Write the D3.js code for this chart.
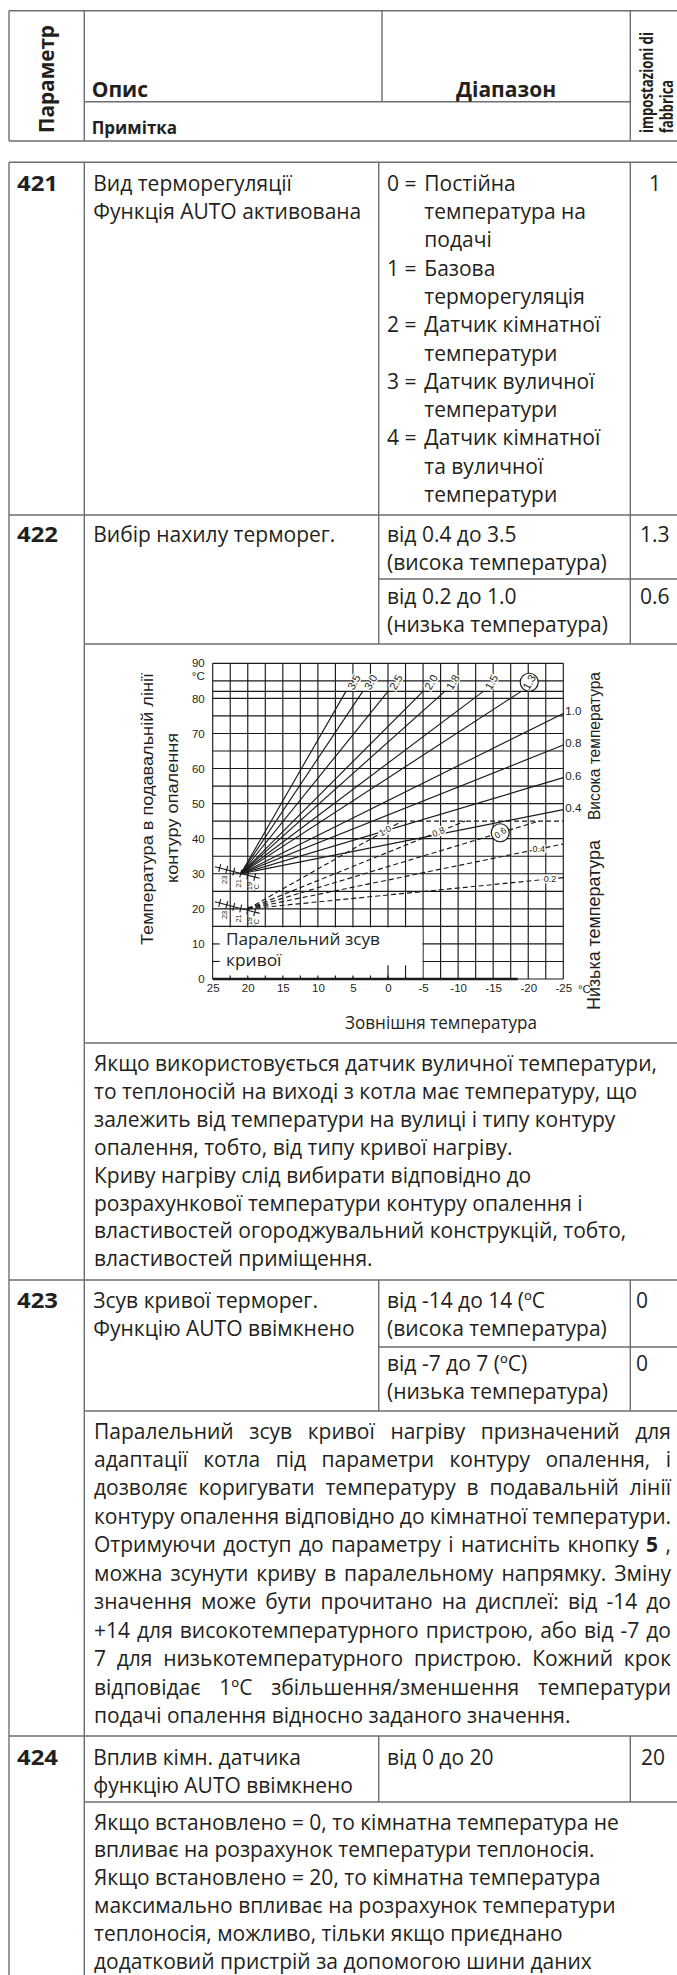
<!DOCTYPE html>
<html><head><meta charset="utf-8">
<script src="https://cdn.jsdelivr.net/npm/d3@7"></script>
<style>
html,body{margin:0;padding:0;background:#fff;}
svg{display:block;}
</style></head><body>
<svg id="page" width="677" height="1975"></svg>
<script>
// ---------------- chart data ----------------
const xTicks = [25, 20, 15, 10, 5, 0, -5, -10, -15, -20, -25];
const yTicks = [0, 10, 20, 30, 40, 50, 60, 70, 80, 90];
const highOrigin = [21, 30];
const highCap = 82;
const highCurveNames = ["3.5", "3.0", "2.5", "2.0", "1.8", "1.5", "1.3", "1.0", "0.8", "0.6", "0.4"];
const highEndX = [6.0, 3.6, 0.0, -5.0, -8.1, -13.6, -19.0, -25, -25, -25, -25];
const highEndY = [82, 82, 82, 82, 82, 82, 82, 75.7, 66.7, 57.4, 48.3];
const lowOrigin = [20, 20];
const lowCap = 45;
const lowCurveNames = ["1.0", "0.8", "0.6", "0.4", "0.2"];
const lowEndX = [-2, -11, -21.5, -25, -25];
const lowEndY = [45, 45, 45, 38.5, 28.9];
const lowLabelX = [0.4, -7.2, -16, -21.5, -23.1];
const selectedHigh = "1.3", selectedLow = "0.6";
const shiftLineFrom = [[24.7, 32.0], [24.7, 22.0]];
const shiftLineTo = [[18.3, 28.7], [18.3, 18.7]];
const shiftTicks = [24, 23, 22, 21, 20, 19];
const shiftLabels = ["23", "21", "19", "°C"];
const shiftLabelX = [23.25, 21.35, 19.8, 18.8];

// ---------------- table texts ----------------
const header = {param: "Параметр", desc: "Опис", range: "Діапазон", note: "Примітка", def1: "impostazioni di", def2: "fabbrica"};
const r421Desc = ["Вид терморегуляції", "Функція AUTO активована"];
const r421Range = [["0 =", "Постійна"], ["", "температура на"], ["", "подачі"], ["1 =", "Базова"], ["", "терморегуляція"],
  ["2 =", "Датчик кімнатної"], ["", "температури"], ["3 =", "Датчик вуличної"], ["", "температури"],
  ["4 =", "Датчик кімнатної"], ["", "та вуличної"], ["", "температури"]];
const r422Desc = ["Вибір нахилу терморег."];
const r422RangeHi = ["від 0.4 до 3.5", "(висока температура)"];
const r422RangeLo = ["від 0.2 до 1.0", "(низька температура)"];
const r422Note = [
  "Якщо використовується датчик вуличної температури,",
  "то теплоносій на виході з котла має температуру, що",
  "залежить від температури на вулиці і типу контуру",
  "опалення, тобто, від типу кривої нагріву.",
  "Криву нагріву слід вибирати відповідно до",
  "розрахункової температури контуру опалення і",
  "властивостей огороджувальний конструкцій, тобто,",
  "властивостей приміщення."];
const r423Desc = ["Зсув кривої терморег.", "Функцію AUTO ввімкнено"];
const r423RangeHi = ["від -14 до 14 (ºC", "(висока температура)"];
const r423RangeLo = ["від -7 до 7 (ºC)", "(низька температура)"];
const r423Note = [
  "Паралельний зсув кривої нагріву призначений для",
  "адаптації котла під параметри контуру опалення, і",
  "дозволяє коригувати температуру в подавальній лінії",
  "контуру опалення відповідно до кімнатної температури.",
  "Отримуючи доступ до параметру і натисніть кнопку *5* ,",
  "можна зсунути криву в паралельному напрямку. Зміну",
  "значення може бути прочитано на дисплеї: від -14 до",
  "+14 для високотемпературного пристрою, або від -7 до",
  "7 для низькотемпературного пристрою. Кожний крок",
  "відповідає 1ºC збільшення/зменшення температури",
  "подачі опалення відносно заданого значення."];
const r424Desc = ["Вплив кімн. датчика", "функцію AUTO ввімкнено"];
const r424Range = ["від 0 до 20"];
const r424Note = [
  "Якщо встановлено = 0, то кімнатна температура не",
  "впливає на розрахунок температури теплоносія.",
  "Якщо встановлено = 20, то кімнатна температура",
  "максимально впливає на розрахунок температури",
  "теплоносія, можливо, тільки якщо приєднано",
  "додатковий пристрій за допомогою шини даних"];

// ---------------- drawing ----------------
const INK = "#231f20", LC = "#6d6e71", GRID = "#1a1a1a";
const BODY = "'Open Sans', 'Noto Sans', sans-serif";
const CH = "'Liberation Sans', Arial, sans-serif";
const FS = 21;
const svg = d3.select("#page");

function hline(x1, x2, y) { svg.append("line").attr("x1", x1).attr("x2", x2).attr("y1", y).attr("y2", y).attr("stroke", LC).attr("stroke-width", 1.4); }
function vline(x, y1, y2) { svg.append("line").attr("x1", x).attr("x2", x).attr("y1", y1).attr("y2", y2).attr("stroke", LC).attr("stroke-width", 1.4); }
function T(x, y, s, o = {}) {
  const t = (o.parent || svg).append("text").attr("x", x).attr("y", y).text(s)
    .attr("font-family", o.ff || BODY).attr("font-size", o.fs || FS)
    .attr("font-weight", o.fw || 400).attr("fill", INK);
  if (o.anchor) t.attr("text-anchor", o.anchor);
  if (o.transform) t.attr("transform", o.transform);
  if (o.len) t.attr("textLength", o.len).attr("lengthAdjust", "spacingAndGlyphs");
  else if (o.maxW) {
    const w = t.node().getComputedTextLength();
    if (w > o.maxW) t.attr("textLength", o.maxW).attr("lengthAdjust", "spacingAndGlyphs");
  }
  return t;
}
function J(x, y, line, width) {
  const words = line.split(" ");
  const nodes = words.map(w => {
    const bold = /^\*.*\*$/.test(w);
    return svg.append("text").attr("y", y).attr("font-family", BODY).attr("font-size", FS)
      .attr("font-weight", bold ? 700 : 400).attr("fill", INK).text(bold ? w.slice(1, -1) : w);
  });
  const widths = nodes.map(n => n.node().getComputedTextLength());
  const total = d3.sum(widths);
  let gap = (width - total) / (words.length - 1);
  let f = 1;
  if (gap < 3.5) { gap = 3.5; f = (width - gap * (words.length - 1)) / total; }
  let cx = x;
  nodes.forEach((n, i) => {
    n.attr("x", cx);
    if (f !== 1) n.attr("textLength", widths[i] * f).attr("lengthAdjust", "spacingAndGlyphs");
    cx += widths[i] * f + gap;
  });
}

// ---- header box ----
const TL = 9, C1 = 84.3, C2 = 378.7, C3 = 630.3, TR = 690;
hline(TL, TR, 10.7); hline(TL, TR, 141); vline(TL, 10.7, 141);
vline(C1, 10.7, 141); vline(382, 10.7, 101.7); vline(C3, 10.7, 141); hline(C1, C3, 101.7);
T(0, 0, header.param, {fw: 700, fs: 21, transform: "translate(53.5,133) rotate(-90)", len: 108});
T(91.7, 96.7, header.desc, {fw: 700, fs: 21});
T(506, 96.7, header.range, {fw: 700, fs: 21, anchor: "middle"});
T(91.7, 134.3, header.note, {fw: 700, fs: 17});
T(0, 0, header.def1, {fw: 700, fs: 17, transform: "translate(653,133) rotate(-90)", len: 101});
T(0, 0, header.def2, {fw: 700, fs: 17, transform: "translate(672.5,133) rotate(-90)", len: 53});

// ---- body grid lines ----
hline(TL, TR, 162.3); hline(TL, TR, 515); hline(TL, TR, 1280); hline(TL, TR, 1736);
hline(C1, TR, 644); hline(C1, TR, 1043); hline(C1, TR, 1411); hline(C1, TR, 1802);
hline(C2, TR, 579); hline(C2, TR, 1347);
vline(TL, 162.3, 1980); vline(C1, 162.3, 1980);
vline(C2, 162.3, 644); vline(C3, 162.3, 644);
vline(C2, 1280, 1411); vline(C3, 1280, 1411);
vline(C2, 1736, 1802); vline(C3, 1736, 1802);

// ---- row 421 ----
T(17, 190.7, "421", {fw: 700, fs: 22, len: 41});
r421Desc.forEach((s, i) => T(93.3, 190.7 + 28.3 * i, s, {maxW: 280}));
r421Range.forEach((p, i) => { const y = 190.7 + 28.3 * i; if (p[0]) T(387, y, p[0]); T(424.3, y, p[1], {maxW: 200}); });
T(655, 190.7, "1", {anchor: "middle"});

// ---- row 422 ----
T(17, 541.5, "422", {fw: 700, fs: 22, len: 41});
T(93.3, 541.5, r422Desc[0], {maxW: 280});
r422RangeHi.forEach((s, i) => T(387, 541.5 + 28 * i, s, {maxW: 238}));
r422RangeLo.forEach((s, i) => T(387, 603.5 + 28 * i, s, {maxW: 238}));
T(640, 541.5, "1.3"); T(640, 603.5, "0.6");
r422Note.forEach((s, i) => T(94, 1071 + 27.9 * i, s, {maxW: 577}));

// ---- row 423 ----
T(17, 1307.5, "423", {fw: 700, fs: 22, len: 41});
r423Desc.forEach((s, i) => T(93.3, 1307.5 + 28 * i, s, {maxW: 280}));
r423RangeHi.forEach((s, i) => T(387, 1307.5 + 28 * i, s, {maxW: 238}));
r423RangeLo.forEach((s, i) => T(387, 1371 + 28 * i, s, {maxW: 238}));
T(636, 1307.5, "0"); T(636, 1371, "0");
r423Note.forEach((s, i) => { const y = 1438.5 + 28.45 * i; if (i < r423Note.length - 1) J(94, y, s, 577); else T(94, y, s, {maxW: 577}); });

// ---- row 424 ----
T(17, 1764.5, "424", {fw: 700, fs: 22, len: 41});
r424Desc.forEach((s, i) => T(93.3, 1764.5 + 28 * i, s, {maxW: 280}));
T(387, 1764.5, r424Range[0]);
T(641, 1764.5, "20");
r424Note.forEach((s, i) => T(94, 1829.5 + 27.9 * i, s, {maxW: 577}));

// ---------------- heating-curve chart ----------------
const xS = d3.scaleLinear().domain([25, -25]).range([212.7, 563.3]);
const yS = d3.scaleLinear().domain([0, 90]).range([979, 663.3]);
const ch = svg.append("g");
const gridX = d3.range(25, -25.01, -2.5);
const gridY = d3.range(0, 90.01, 5).concat([highCap]);
const GW = 1.15;

ch.append("g").selectAll("line").data(gridX).join("line")
  .attr("x1", d => xS(d)).attr("x2", d => xS(d)).attr("y1", yS(90)).attr("y2", yS(0))
  .attr("stroke", GRID).attr("stroke-width", GW);
ch.append("g").selectAll("line").data(gridY.filter(d => d !== lowCap)).join("line")
  .attr("x1", xS(25)).attr("x2", xS(-25)).attr("y1", d => yS(d)).attr("y2", d => yS(d))
  .attr("stroke", GRID).attr("stroke-width", GW);
ch.append("line").attr("x1", xS(25)).attr("x2", xS(lowEndX[0])).attr("y1", yS(lowCap)).attr("y2", yS(lowCap))
  .attr("stroke", GRID).attr("stroke-width", GW);
ch.append("line").attr("x1", xS(lowEndX[0])).attr("x2", xS(-25)).attr("y1", yS(lowCap)).attr("y2", yS(lowCap))
  .attr("stroke", GRID).attr("stroke-width", GW).attr("stroke-dasharray", "5,3");

// white caption box in lower-left corner
ch.append("rect").attr("x", xS(25) + 0.9).attr("y", yS(15) + 1)
  .attr("width", xS(-5) - xS(25) - 1.5).attr("height", yS(0) - yS(15) - 2.4).attr("fill", "#fff");
ch.append("g").selectAll("line").data([0, -2.5]).join("line")
  .attr("x1", d => xS(d)).attr("x2", d => xS(d)).attr("y1", yS(3.9)).attr("y2", yS(0))
  .attr("stroke", GRID).attr("stroke-width", GW);
ch.append("g").selectAll("line").data([10, 5]).join("line")
  .attr("x1", xS(25)).attr("x2", xS(25) + 7).attr("y1", d => yS(d)).attr("y2", d => yS(d))
  .attr("stroke", GRID).attr("stroke-width", GW);
ch.append("g").selectAll("line").data(d3.range(22.5, -5, -2.5)).join("line")
  .attr("x1", d => xS(d)).attr("x2", d => xS(d)).attr("y1", yS(0) - 3.5).attr("y2", yS(0))
  .attr("stroke", GRID).attr("stroke-width", GW);
ch.append("line").attr("x1", xS(25)).attr("x2", xS(-18.5)).attr("y1", yS(0)).attr("y2", yS(0))
  .attr("stroke", GRID).attr("stroke-width", 2.6);
T(226, 944.8, "Паралельний зсув", {parent: ch, fs: 15.5, len: 154});
T(226, 966, "кривої", {parent: ch, fs: 15.5, len: 55.5});

// axes
const yAxis = d3.axisLeft(yS).tickValues(yTicks).tickSize(0).tickPadding(8).tickFormat(d => String(d));
ch.append("g").attr("transform", `translate(${xS(25)},0)`).call(yAxis)
  .call(g => g.select(".domain").remove())
  .attr("font-family", CH).attr("font-size", 11.5)
  .call(g => g.selectAll("text").attr("fill", INK));
const xAxis = d3.axisBottom(xS).tickValues(xTicks).tickSize(0).tickPadding(5).tickFormat(d => String(d));
ch.append("g").attr("transform", `translate(0,${yS(0)})`).call(xAxis)
  .call(g => g.select(".domain").remove())
  .attr("font-family", CH).attr("font-size", 11.5)
  .call(g => g.selectAll("text").attr("fill", INK));
T(xS(25) - 8, yS(86.5) + 4, "°C", {parent: ch, ff: CH, fs: 11.5, anchor: "end"});
T(578, 993, "°C", {parent: ch, ff: CH, fs: 11.5});

// curves
const line = d3.line().x(d => xS(d[0])).y(d => yS(d[1]));
const highData = highCurveNames.map((k, i) => ({k, pts: [highOrigin, [highEndX[i], highEndY[i]]]}));
const lowData = lowCurveNames.map((k, i) => ({k, lx: lowLabelX[i], pts: [lowOrigin, [lowEndX[i], lowEndY[i]]]}));
ch.append("g").selectAll("path").data(highData).join("path")
  .attr("d", d => line(d.pts)).attr("fill", "none").attr("stroke", GRID).attr("stroke-width", 1.15);
ch.append("g").selectAll("path").data(lowData).join("path")
  .attr("d", d => line(d.pts)).attr("fill", "none").attr("stroke", GRID).attr("stroke-width", 1.15)
  .attr("stroke-dasharray", "5,3");

// shift markers
shiftLineFrom.forEach((from, j) => {
  const to = shiftLineTo[j];
  const yAt = v => from[1] + (to[1] - from[1]) * (v - from[0]) / (to[0] - from[0]);
  ch.append("path").attr("d", line([from, to])).attr("stroke", GRID).attr("stroke-width", 1.1).attr("fill", "none");
  const ang = Math.atan2(yS(to[1]) - yS(from[1]), xS(to[0]) - xS(from[0]));
  const px = -Math.sin(ang) * 4, py = Math.cos(ang) * 4;
  ch.append("g").selectAll("line").data(shiftTicks).join("line")
    .attr("x1", d => xS(d) - px).attr("x2", d => xS(d) + px)
    .attr("y1", d => yS(yAt(d)) - py).attr("y2", d => yS(yAt(d)) + py)
    .attr("stroke", GRID).attr("stroke-width", 1.1);
  shiftLabels.forEach((s, i) => {
    const cx = xS(shiftLabelX[i]), cy = yS(yAt(shiftLabelX[i])) + 10.5;
    T(0, 0, s, {parent: ch, ff: CH, fs: 7.5, anchor: "middle", transform: `translate(${cx + 2.5},${cy}) rotate(-90)`});
  });
});

// high curve labels
highData.forEach(d => {
  const ex = d.pts[1][0], ey = d.pts[1][1];
  if (ex !== -25) {
    const cx = xS(ex) + 8, cy = yS(84.6);
    if (d.k === selectedHigh) ch.append("circle").attr("cx", cx).attr("cy", cy).attr("r", 9)
      .attr("fill", "#fff").attr("stroke", GRID).attr("stroke-width", 1.2);
    T(0, 0, d.k, {parent: ch, ff: CH, fs: 11, anchor: "middle", transform: `translate(${cx},${cy}) rotate(-60)`})
      .attr("dy", "0.35em").attr("stroke", d.k === selectedHigh ? "none" : "#fff").attr("stroke-width", 2.5)
      .attr("paint-order", "stroke");
  } else {
    T(xS(-25) + 2, yS(ey) + 2, d.k, {parent: ch, ff: CH, fs: 11.5});
  }
});
// low curve labels
lowData.forEach(d => {
  const [o, e] = d.pts;
  const ly = d.lx >= e[0] ? o[1] + (e[1] - o[1]) * (d.lx - o[0]) / (e[0] - o[0]) : lowCap;
  const cx = xS(d.lx), cy = yS(ly);
  let ang = Math.atan2(yS(e[1]) - yS(o[1]), xS(e[0]) - xS(o[0])) * 180 / Math.PI;
  if (Math.abs(ang) < 15) ang = 0;
  if (d.k === selectedLow) {
    ch.append("circle").attr("cx", cx).attr("cy", cy).attr("r", 9).attr("fill", "#fff")
      .attr("stroke", GRID).attr("stroke-width", 1.2);
    ang = -35;
  }
  T(0, 0, d.k, {parent: ch, ff: CH, fs: 9, anchor: "middle", transform: `translate(${cx},${cy}) rotate(${ang})`})
    .attr("dy", "0.35em").attr("stroke", "#fff").attr("stroke-width", 3).attr("paint-order", "stroke");
});

// chart titles
T(0, 0, "Температура в подавальній лінії", {parent: ch, ff: CH, fs: 17, anchor: "middle", len: 272, transform: "translate(152.5,809) rotate(-90)"});
T(0, 0, "контуру опалення", {parent: ch, ff: CH, fs: 17, anchor: "middle", len: 150, transform: "translate(178,808) rotate(-90)"});
T(0, 0, "Висока температура", {parent: ch, ff: CH, fs: 16, anchor: "middle", len: 148, transform: "translate(599.5,746) rotate(-90)"});
T(0, 0, "Низька температура", {parent: ch, ff: CH, fs: 18, anchor: "middle", len: 170, transform: "translate(599.5,925) rotate(-90)"});
T(345, 1028.5, "Зовнішня температура", {parent: ch, fs: 17.5, len: 192});
</script>
</body></html>
